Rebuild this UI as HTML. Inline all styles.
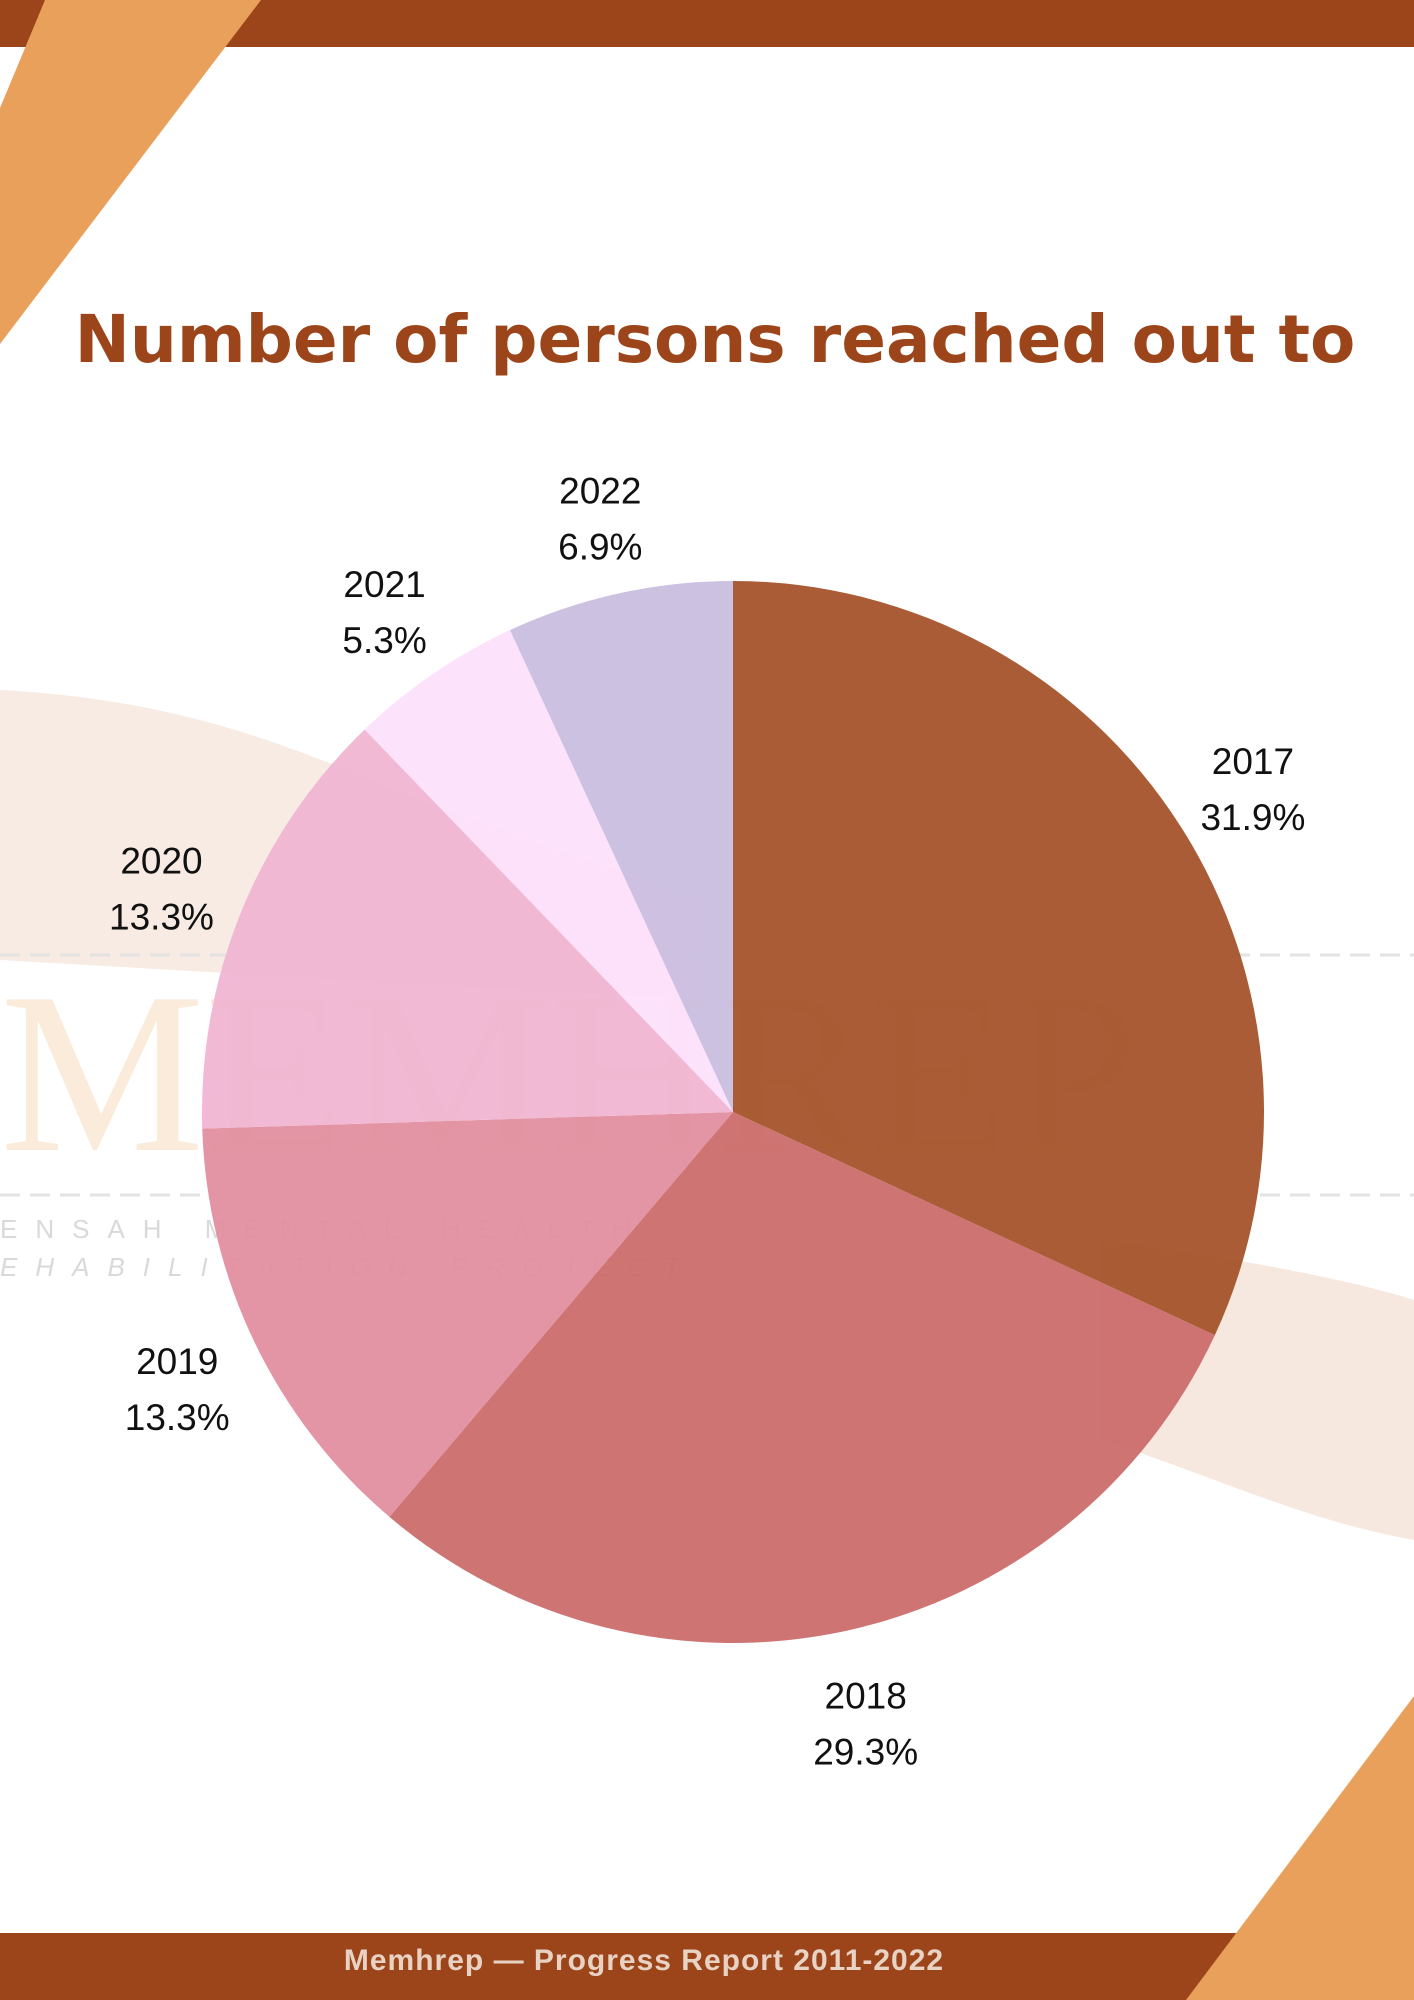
<!DOCTYPE html>
<html><head><meta charset="utf-8"><style>
html,body{margin:0;padding:0;background:#fff}
#wrap{position:relative;width:1414px;height:2000px;overflow:hidden;font-family:"Liberation Sans",sans-serif}
</style></head><body>
<div id="wrap">
<svg width="1414" height="2000" viewBox="0 0 1414 2000">
  <g opacity="0.55">
    <path d="M0 690 C200 700 320 760 420 800 L700 900 L700 1000 L0 960 Z" fill="#e7c3ad" opacity="0.6"/>
    <path d="M1100 1240 C1250 1260 1350 1280 1414 1300 L1414 1540 C1300 1520 1200 1470 1100 1440 Z" fill="#e7c3ad" opacity="0.7"/>
    <text x="0" y="1150" font-family="Liberation Serif,serif" font-size="230" fill="#f3c58f" opacity="0.6">MEMHREP</text>
    <line x1="0" y1="955" x2="1414" y2="955" stroke="#ccc" stroke-width="3" stroke-dasharray="20 10"/>
    <line x1="0" y1="1195" x2="1414" y2="1195" stroke="#ccc" stroke-width="3" stroke-dasharray="20 10"/>
    <text x="0" y="1238" font-size="26" letter-spacing="18" fill="#bbb">ENSAH MENTAL HEALTH</text>
    <text x="0" y="1276" font-size="26" letter-spacing="18" fill="#bbb" font-style="italic">EHABILITATION PROJECT</text>
  </g>
  <g id="pie"></g>
  <g id="labels"></g>
  <rect x="0" y="0" width="1414" height="47" fill="#9c451b"/>
  <polygon points="45,0 261,0 0,344 0,108" fill="#e8a05a"/>
  <rect x="0" y="1933" width="1414" height="67" fill="#9c451b"/>
  <polygon points="1414,1696 1414,2000 1186,2000" fill="#e8a05a"/>
  <text x="715" y="362" text-anchor="middle" font-size="66" font-weight="bold" fill="#9c451b" font-family="DejaVu Sans,sans-serif">Number of persons reached out to</text>
  <text x="644" y="1970" text-anchor="middle" font-size="30" font-weight="bold" fill="#e8d2c4" letter-spacing="1">Memhrep  —  Progress Report 2011-2022</text>
</svg>
</div>
<script>
const categories=["2017","2018","2019","2020","2021","2022"];
const values=[31.9,29.3,13.3,13.3,5.3,6.9];
const colors=["#a4532a","#cb6d6a","#e28fa0","#f0b5d2","#fde0fc","#cabedf"];
const cx=733,cy=1112,r=531,lr=617;
const ns="http://www.w3.org/2000/svg";
const pie=document.getElementById('pie'),lab=document.getElementById('labels');
const total=values.reduce((a,b)=>a+b,0);
let a0=0;
values.forEach((v,i)=>{
  const a1=a0+v/total*2*Math.PI;
  const p=t=>[cx+r*Math.sin(t),cy-r*Math.cos(t)];
  const [x0,y0]=p(a0),[x1,y1]=p(a1);
  const path=document.createElementNS(ns,'path');
  path.setAttribute('d',`M${cx},${cy}L${x0},${y0}A${r},${r} 0 ${a1-a0>Math.PI?1:0} 1 ${x1},${y1}Z`);
  path.setAttribute('fill',colors[i]);
  path.setAttribute('opacity','0.95');
  
  
  pie.appendChild(path);
  const m=(a0+a1)/2;
  const lx=cx+lr*Math.sin(m),ly=cy-lr*Math.cos(m);
  const t=document.createElementNS(ns,'text');
  t.setAttribute('text-anchor','middle');
  t.setAttribute('font-size','37');
  t.setAttribute('fill','#111');
  
  
  const s1=document.createElementNS(ns,'tspan');s1.setAttribute('x',lx);s1.setAttribute('y',ly-6);s1.textContent=categories[i];
  const s2=document.createElementNS(ns,'tspan');s2.setAttribute('x',lx);s2.setAttribute('y',ly+50);s2.textContent=v.toFixed(1)+'%';
  t.appendChild(s1);t.appendChild(s2);lab.appendChild(t);
  a0=a1;
});
</script>
</body></html>
